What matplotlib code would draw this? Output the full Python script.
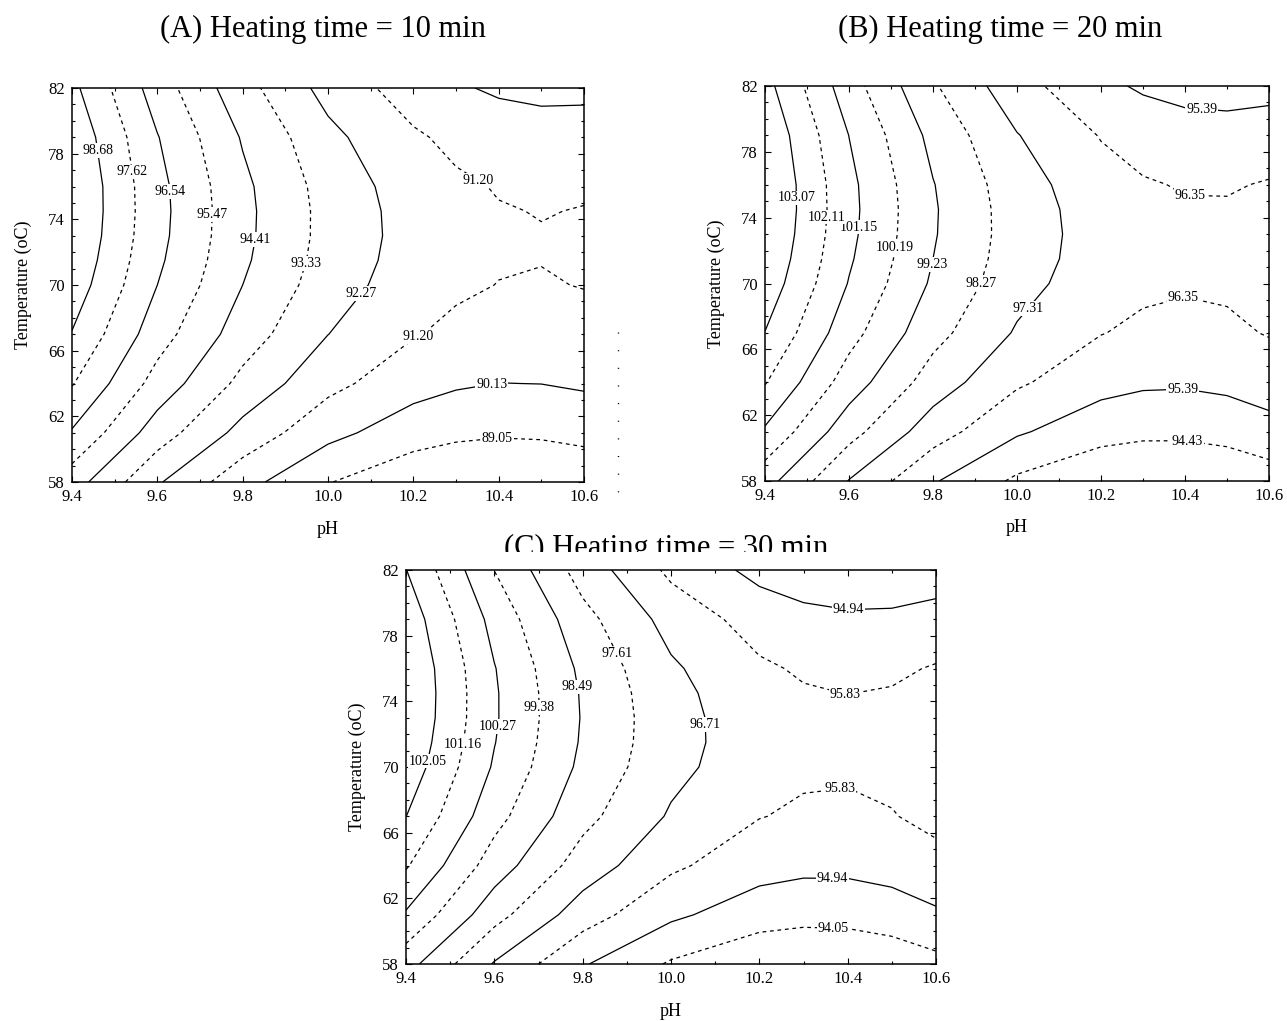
import matplotlib.pyplot as plt
from matplotlib.lines import Line2D
from matplotlib.patches import Rectangle
from matplotlib.ticker import MultipleLocator, FixedLocator, FormatStrFormatter

plt.rcParams['font.family'] = ['Liberation Serif', 'DejaVu Serif']
plt.rcParams['lines.dashed_pattern'] = [3.0, 3.0]

# response grid: columns are pH, rows are temperature
ph = [9.4, 9.6, 9.8, 10.0, 10.2, 10.3, 10.4, 10.5, 10.6]
temp = [58, 61, 64, 67, 70, 71.5, 73, 74.5, 76, 79, 82]

z_10min = [
    [94.90, 92.39, 90.50, 89.10, 88.26, 88.03, 87.95, 88.02, 88.22],
    [96.44, 93.87, 91.91, 90.44, 89.54, 89.29, 89.18, 89.22, 89.38],
    [97.69, 95.05, 93.03, 91.50, 90.54, 90.26, 90.12, 90.14, 90.27],
    [98.63, 95.94, 93.87, 92.28, 91.27, 90.96, 90.79, 90.78, 90.89],
    [99.29, 96.54, 94.41, 92.77, 91.71, 91.37, 91.18, 91.14, 91.23],
    [99.50, 96.73, 94.58, 92.91, 91.82, 91.48, 91.28, 91.22, 91.30],
    [99.65, 96.85, 94.67, 92.98, 91.87, 91.51, 91.30, 91.24, 91.30],
    [99.71, 96.89, 94.69, 92.98, 91.84, 91.47, 91.25, 91.17, 91.23],
    [99.71, 96.86, 94.64, 92.91, 91.75, 91.37, 91.14, 91.05, 91.10],
    [99.48, 96.59, 94.32, 92.55, 91.35, 90.95, 90.70, 90.59, 90.62],
    [98.95, 96.02, 93.71, 91.90, 90.67, 90.25, 89.98, 89.86, 89.87],
]

z_20min = [
    [99.60, 97.27, 95.48, 94.26, 93.60, 93.48, 93.50, 93.66, 93.96],
    [101.02, 98.63, 96.79, 95.51, 94.80, 94.65, 94.64, 94.77, 95.04],
    [102.17, 99.72, 97.82, 96.49, 95.72, 95.54, 95.51, 95.62, 95.86],
    [103.05, 100.54, 98.59, 97.21, 96.38, 96.17, 96.11, 96.19, 96.40],
    [103.66, 101.10, 99.09, 97.65, 96.76, 96.53, 96.44, 96.49, 96.67],
    [103.86, 101.27, 99.23, 97.77, 96.86, 96.61, 96.50, 96.54, 96.71],
    [103.99, 101.38, 99.31, 97.82, 96.88, 96.62, 96.50, 96.52, 96.68],
    [104.06, 101.42, 99.33, 97.80, 96.84, 96.56, 96.43, 96.43, 96.58],
    [104.06, 101.39, 99.27, 97.72, 96.72, 96.43, 96.29, 96.28, 96.41],
    [103.86, 101.14, 98.96, 97.35, 96.30, 95.98, 95.81, 95.77, 95.88],
    [103.39, 100.61, 98.38, 96.71, 95.61, 95.26, 95.06, 95.00, 95.07],
]

z_30min = [
    [98.82, 96.64, 95.02, 93.95, 93.33, 93.23, 93.28, 93.46, 93.78],
    [100.17, 97.93, 96.25, 95.11, 94.45, 94.33, 94.35, 94.51, 94.81],
    [101.25, 98.94, 97.20, 95.99, 95.29, 95.15, 95.15, 95.28, 95.56],
    [102.06, 99.69, 97.88, 96.61, 95.86, 95.70, 95.68, 95.79, 96.05],
    [102.61, 100.17, 98.29, 96.96, 96.17, 95.98, 95.94, 96.03, 96.27],
    [102.77, 100.30, 98.39, 97.03, 96.22, 96.02, 95.97, 96.05, 96.27],
    [102.88, 100.37, 98.43, 97.03, 96.20, 95.99, 95.93, 96.00, 96.21],
    [102.91, 100.37, 98.40, 96.97, 96.12, 95.90, 95.82, 95.88, 96.09],
    [102.88, 100.31, 98.30, 96.84, 95.96, 95.73, 95.65, 95.70, 95.89],
    [102.61, 99.97, 97.90, 96.38, 95.46, 95.21, 95.10, 95.13, 95.30],
    [102.07, 99.37, 97.23, 95.64, 94.68, 94.41, 94.28, 94.28, 94.44],
]

levels_10min = [89.05, 90.13, 91.20, 92.27, 93.33, 94.41, 95.47, 96.54, 97.62, 98.68]
levels_20min = [94.43, 95.39, 96.35, 97.31, 98.27, 99.23, 100.19, 101.15, 102.11, 103.07]
levels_30min = [94.05, 94.94, 95.83, 96.71, 97.61, 98.49, 99.38, 100.27, 101.16, 102.05]

temp_ticks = [58, 62, 66, 70, 74, 78, 82]

# where the contour value labels go (pH, temperature)
labels_10min = [(10.397, 60.6), (10.385, 63.8), (10.212, 66.85), (10.356, 76.5),
                (10.069, 69.65), (9.937, 71.4), (9.822, 72.8), (9.727, 74.3),
                (9.633, 75.7), (9.545, 76.9), (9.46, 78.2)]
labels_20min = [(10.405, 60.37), (10.395, 63.4), (10.40, 68.8), (10.413, 75.6),
                (10.44, 80.74), (10.036, 68.3), (9.924, 69.9), (9.806, 71.1),
                (9.709, 72.2), (9.641, 73.4), (9.540, 74.05), (9.478, 75.2)]
labels_30min = [(10.368, 60.29), (10.365, 63.4), (10.383, 68.6), (10.398, 74.7),
                (10.402, 79.67), (10.074, 72.57), (9.866, 76.73), (9.772, 74.8),
                (9.682, 73.62), (9.606, 72.46), (9.531, 71.39), (9.454, 70.33)]

W, H = 1287, 1021
fig = plt.figure(figsize=(W / 100, H / 100), dpi=100)


def panel(left, top, right, bottom, z, levels, label_pos, title, title_x, title_base):
    ax = fig.add_axes([left / W, 1 - bottom / H, (right - left) / W, (bottom - top) / H])
    cs = ax.contour(ph, temp, z, levels=levels, colors='black', linewidths=0.9,
                    linestyles=['dashed', 'solid'] * 5)
    texts = ax.clabel(cs, fmt='%.2f', fontsize=10, inline=False, manual=label_pos)
    for t in texts:
        t.set_rotation(0)
        t.set_bbox(dict(facecolor='white', edgecolor='none', pad=0.6))

    ax.set_xlim(9.4, 10.6)
    ax.set_ylim(58, 82)
    ax.xaxis.set_major_locator(MultipleLocator(0.2))
    ax.xaxis.set_minor_locator(MultipleLocator(0.1))
    ax.yaxis.set_major_locator(FixedLocator(temp_ticks))
    ax.yaxis.set_minor_locator(MultipleLocator(1))
    ax.xaxis.set_major_formatter(FormatStrFormatter('%.1f'))
    ax.tick_params(which='both', direction='in', top=True, right=True, width=0.8)
    ax.tick_params(which='major', length=4, labelsize=12, pad=5)
    ax.tick_params(which='minor', length=2.5)
    for s in ax.spines.values():
        s.set_linewidth(1.1)

    fig.text(title_x / W, 1 - title_base / H, title, fontsize=22,
             ha='center', va='baseline')
    fig.text((left + right) / 2 / W, 1 - (bottom + 47) / H, 'pH', fontsize=13,
             ha='center', va='center')
    fig.text((left - 49) / W, 1 - (top + bottom) / 2 / H, 'Temperature (oC)',
             fontsize=13, rotation=90, ha='center', va='center')
    return ax


panel(72, 88, 584, 482, z_10min, levels_10min, labels_10min,
      '(A) Heating time = 10 min', 323, 37)
panel(765, 86, 1269, 481, z_20min, levels_20min, labels_20min,
      '(B) Heating time = 20 min', 1000, 37)
panel(406, 570, 936, 964, z_30min, levels_30min, labels_30min,
      '(C) Heating time = 30 min', 666, 556)

# the lower graph's white frame hides the foot of its title
fig.add_artist(Rectangle((440 / W, 1 - 569 / H), 460 / W, 17 / H,
                         transform=fig.transFigure, facecolor='white',
                         edgecolor='none', zorder=5))

# stray dotted rule between the two upper graphs
fig.add_artist(Line2D([618 / W, 618 / W], [1 - 332 / H, 1 - 494 / H],
                      transform=fig.transFigure, color='black', lw=1.0,
                      linestyle=(0, (0.8, 11.9))))

fig.savefig('out.png', dpi=100)
